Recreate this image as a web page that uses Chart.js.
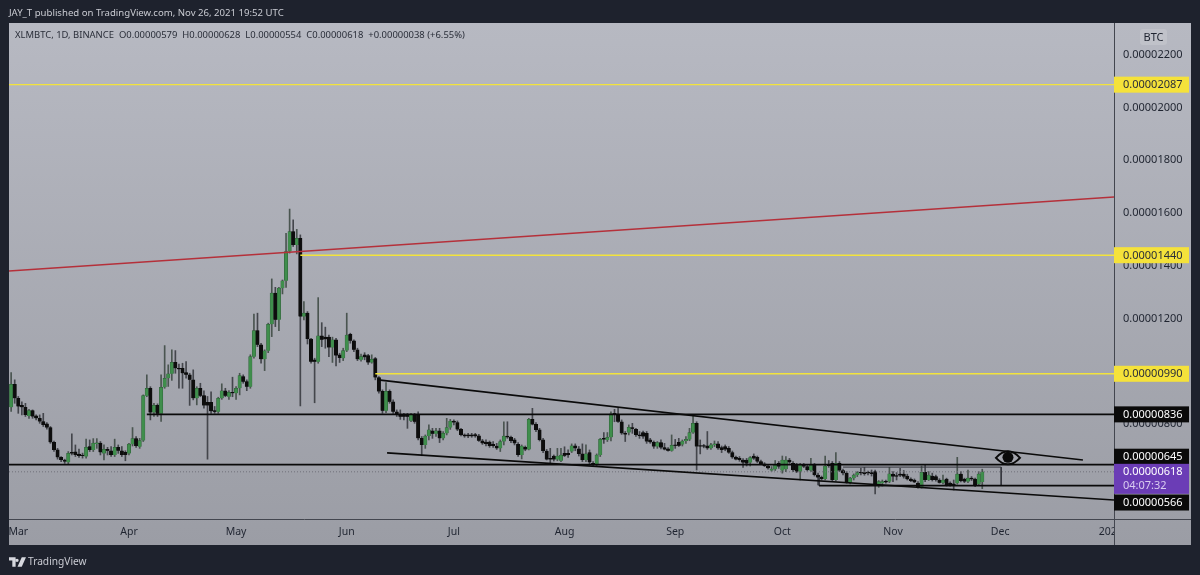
<!DOCTYPE html>
<html>
<head>
<meta charset="utf-8">
<title>XLMBTC</title>
<style>
  html, body { margin: 0; padding: 0; background: #1e222d; width: 1200px; height: 575px; overflow: hidden; }
  body { font-family: "Noto Sans", sans-serif; position: relative; }
  canvas { position: absolute; left: 0; top: 0; }
  .note { position: absolute; white-space: pre; line-height: 14px; }
  #published { left: 9px; top: 6px; color: #c9cbd2; font-size: 9.6px; }
  #ohlc { left: 15px; top: 28px; color: #2a2e39; font-size: 9.45px; }
  #brand { left: 28px; top: 554px; color: #c9cbd2; font-size: 10.2px; }
  #logo { position: absolute; left: 9px; top: 557px; }
</style>
</head>
<body>
<canvas id="chart" width="1200" height="575"></canvas>
<div class="note" id="published">JAY_T published on TradingView.com, Nov 26, 2021 19:52 UTC</div>
<div class="note" id="ohlc">XLMBTC, 1D, BINANCE  O0.00000579  H0.00000628  L0.00000554  C0.00000618  +0.00000038 (+6.55%)</div>
<svg id="logo" width="17" height="10" viewBox="0 0 36 20"><path fill="#d6d8de" d="M0 0h14v20H7V7H0zM17 3a3.5 3.5 0 1 0 0 7 3.5 3.5 0 0 0 0-7zM27 0h9l-9 20h-9z"/></svg>
<div class="note" id="brand">TradingView</div>
<script src="https://cdn.jsdelivr.net/npm/chart.js@4"></script>
<script>
// prices are in satoshi (1e-8 BTC), first candle is 2 days before Mar 1
const firstDay = -2;

const opens = [
  863,950,897,870,863,830,850,830,821,809,
  800,786,730,701,673,663,654,692,694,685,
  682,676,714,701,724,727,688,703,698,682,
  711,698,692,688,723,744,713,737,907,935,
  843,870,838,939,973,990,1033,1011,1011,995,
  986,967,897,935,907,882,882,850,846,897,
  925,903,920,916,935,979,960,941,1055,1154,
  1100,1045,1077,1178,1296,1195,1315,1343,1454,1530,
  1479,1504,1207,1220,1122,1043,1036,1134,1129,1129,
  1090,1119,1062,1049,1078,1140,1115,1081,1043,1062,
  1059,1033,1048,976,923,850,923,884,846,836,
  834,834,812,834,834,745,720,754,774,762,
  774,745,764,786,811,805,779,758,758,758,
  759,755,736,731,731,722,716,707,733,754,
  749,739,722,682,711,703,817,798,777,739,
  697,669,678,665,660,688,688,695,717,705,
  686,663,691,650,645,682,745,739,749,840,
  834,808,764,767,786,779,758,767,764,739,
  730,714,729,710,705,698,720,730,722,735,
  741,767,802,717,717,717,707,720,724,710,
  714,707,691,673,669,663,663,653,678,673,
  657,648,640,623,628,650,623,628,663,650,
  644,619,644,638,623,644,606,597,591,644,
  650,587,650,623,613,577,594,606,615,615,
  615,615,619,564,575,581,581,609,604,609,
  609,602,590,587,575,559,616,587,602,600,
  587,577,590,575,572,575,609,590,581,594,
  590,571,579,
];
const highs = [
  995,967,904,884,878,855,853,834,834,840,
  805,790,735,707,676,666,695,762,720,704,
  689,742,739,744,744,733,720,711,714,742,
  720,714,698,726,786,752,745,910,986,941,
  878,876,986,1097,1024,1081,1078,1027,1030,1036,
  992,1005,941,954,925,904,922,866,901,952,
  935,926,977,941,992,986,967,1062,1217,1220,
  1106,1081,1182,1350,1318,1318,1346,1523,1615,1574,
  1538,1517,1264,1226,1125,1049,1279,1184,1167,1137,
  1129,1125,1068,1087,1220,1144,1119,1087,1065,1070,
  1064,1062,1052,979,929,957,929,891,853,853,
  840,840,840,840,846,752,758,796,783,783,
  783,771,821,817,815,811,783,762,764,764,
  764,760,741,739,735,733,726,739,808,808,
  754,745,729,720,716,821,859,805,783,745,
  703,707,682,707,707,713,701,724,724,714,
  724,720,701,657,686,745,767,767,846,855,
  859,815,771,796,802,783,771,773,771,745,
  735,733,739,726,710,758,741,745,739,752,
  783,830,808,739,722,771,726,735,733,716,
  720,714,697,678,676,668,669,676,686,678,
  663,653,645,638,661,657,678,676,669,657,
  650,650,650,644,669,650,613,602,678,661,
  657,691,657,628,619,597,610,619,631,635,
  621,625,625,585,587,587,635,619,615,631,
  623,609,595,591,581,640,644,619,613,606,
  592,606,594,580,587,673,619,594,625,600,
  594,619,628,
];
const lows = [
  847,878,840,834,828,821,821,815,802,790,
  780,726,695,666,657,650,648,682,676,673,
  670,670,695,695,707,682,663,682,676,676,
  688,676,660,682,716,711,707,733,903,815,
  828,828,809,935,942,965,992,935,935,973,
  870,891,872,903,860,666,840,840,840,893,
  903,893,903,893,910,954,926,935,1049,1093,
  1030,1002,1070,1131,1169,1154,1293,1318,1448,1473,
  1445,868,1194,1103,1030,880,1030,1093,1087,1055,
  1033,1020,1033,1040,1074,1106,1074,1040,1038,1043,
  1026,1030,967,916,840,842,878,840,828,817,
  815,783,808,802,739,679,707,739,745,752,
  729,739,758,779,796,774,754,749,748,749,
  749,733,722,716,711,711,703,695,720,745,
  729,720,676,667,698,701,796,770,735,691,
  663,648,659,660,657,676,673,691,698,678,
  657,657,644,640,640,676,726,733,735,808,
  805,760,733,758,764,752,745,745,726,726,
  707,707,705,701,696,696,707,714,716,726,
  736,764,625,686,709,703,703,714,703,691,
  698,688,669,663,658,635,640,640,665,653,
  645,638,628,620,623,631,613,619,650,619,
  615,587,634,621,619,602,568,587,587,635,
  583,583,619,606,575,572,587,600,606,605,
  606,602,534,559,564,575,577,581,587,600,
  594,587,581,577,556,556,581,585,583,583,
  575,572,564,564,549,571,580,577,577,585,
  562,566,554,
];
const closes = [
  950,897,866,863,834,850,828,821,809,796,
  786,730,701,673,663,657,688,688,682,678,
  678,711,701,727,727,692,703,698,682,711,
  698,682,682,723,744,716,737,907,935,843,
  870,838,939,973,990,1033,1011,1007,992,986,
  967,897,935,907,870,870,848,846,897,925,
  907,920,916,935,983,960,941,1055,1154,1100,
  1045,1077,1178,1296,1195,1315,1343,1454,1530,1479,
  1504,1207,1220,1122,1036,1036,1134,1119,1121,1090,
  1119,1059,1050,1078,1137,1115,1081,1045,1055,1053,
  1033,1045,976,923,850,923,884,846,837,827,
  827,827,834,808,745,720,754,777,762,774,
  745,764,786,811,805,779,758,753,753,753,
  753,736,726,724,716,716,707,733,754,749,
  735,726,682,716,703,817,798,777,739,697,
  665,665,665,678,682,679,682,717,707,686,
  663,686,654,645,682,741,741,749,838,834,
  808,764,760,787,781,758,754,752,733,730,
  714,729,710,703,698,719,717,717,735,741,
  767,802,714,714,714,707,720,724,707,701,
  703,691,673,665,663,653,650,672,669,657,
  648,640,632,628,644,638,663,663,654,625,
  619,644,638,625,644,606,596,591,640,640,
  587,650,623,613,577,594,606,615,613,610,
  613,610,568,581,581,578,610,600,600,604,
  600,590,583,578,559,616,587,606,587,587,
  577,587,568,568,568,609,583,581,594,590,
  568,609,618,
];

const monthDays = [0, 31, 61, 92, 122, 153, 184, 214, 245, 275, 306];
const monthLabels = ["Mar", "Apr", "May", "Jun", "Jul", "Aug", "Sep", "Oct", "Nov", "Dec", "2022"];
const priceTicks = [600, 800, 1000, 1200, 1400, 1600, 1800, 2000, 2200];

const formatPrice = (v) => (v / 1e8).toFixed(8);

// drawn levels and trend lines, as [day, price] pairs
const toPoints = (pairs) => pairs.map(([x, y]) => ({ x, y }));
const redLine = [[-2.6, 1380], [306.9, 1661]];
const upperTrend = [[100.8, 967], [298.2, 663]];
const lowerTrend = [[103.3, 690], [306.9, 511]];
const level2087 = [[-2.6, 2087], [306.9, 2087]];
const level1440 = [[79, 1440], [306.9, 1440]];
const level990 = [[100, 990], [306.9, 990]];
const level836 = [[36, 836], [306.9, 836]];
const level645 = [[-2.6, 645], [306.9, 645]];
const level566 = [[224.3, 566], [306.9, 566]];
const lastPrice = [[-2.6, 618], [306.9, 618]];
const boxRight = [[231, 636], [275.3, 636], [275.3, 566]];
const boxLeft = [[224.3, 596], [224.3, 566]];
const eyeSpot = [277.2, 671];

const isUp = (i) => closes[i] >= opens[i];

const lineSet = (pairs, color, width, dash) => ({
  type: "line",
  data: toPoints(pairs),
  borderColor: color,
  borderWidth: width,
  borderDash: dash || [],
  pointRadius: 0,
  tension: 0,
  order: 0,
});

const panelFill = (ctx) => {
  const g = ctx.createLinearGradient(0, 23, 0, 545);
  g.addColorStop(0, "#b7b9c2");
  g.addColorStop(1, "#9b9da5");
  return g;
};

const tagRows = [
  { price: 2087, bg: "#f5e23a", fg: "#2a2e39", shift: 0 },
  { price: 1440, bg: "#f5e23a", fg: "#2a2e39", shift: 0 },
  { price: 990, bg: "#f5e23a", fg: "#2a2e39", shift: 0 },
  { price: 836, bg: "#0a0a0a", fg: "#ffffff", shift: 0 },
  { price: 645, bg: "#0a0a0a", fg: "#ffffff", shift: -8 },
  { price: 566, bg: "#0a0a0a", fg: "#ffffff", shift: 17 },
];

const paintPlugin = {
  id: "paint",
  beforeDraw(chart) {
    const { ctx } = chart;
    ctx.save();
    ctx.fillStyle = panelFill(ctx);
    ctx.fillRect(9, 23, 1182, 522);
    ctx.restore();
  },
  afterDraw(chart) {
    const { ctx, scales } = chart;
    const yOf = (p) => scales.y.getPixelForValue(p);
    ctx.save();

    // the last month label is cut by the price axis
    ctx.fillStyle = panelFill(ctx);
    ctx.fillRect(1114, 520, 30, 25);

    ctx.strokeStyle = "#43464f";
    ctx.lineWidth = 1;
    ctx.beginPath();
    ctx.moveTo(1114.5, 23);
    ctx.lineTo(1114.5, 545);
    ctx.moveTo(9, 519.5);
    ctx.lineTo(1191, 519.5);
    ctx.stroke();

    // BTC currency button
    ctx.fillStyle = "rgba(255,255,255,0.14)";
    ctx.beginPath();
    ctx.roundRect(1140, 29, 27, 16, 3);
    ctx.fill();
    ctx.font = '11px "Noto Sans"';
    ctx.textAlign = "center";
    ctx.textBaseline = "middle";
    ctx.fillStyle = "#1f2430";
    ctx.fillText("BTC", 1153.5, 37.5);

    // eye drawing on the upper trend line
    const ex = scales.x.getPixelForValue(eyeSpot[0]);
    const ey = yOf(eyeSpot[1]);
    ctx.strokeStyle = "#0a0a0a";
    ctx.lineWidth = 2;
    ctx.fillStyle = "#a3a5ad";
    ctx.beginPath();
    ctx.moveTo(ex - 12, ey);
    ctx.quadraticCurveTo(ex, ey - 13, ex + 12, ey);
    ctx.quadraticCurveTo(ex, ey + 13, ex - 12, ey);
    ctx.closePath();
    ctx.fill();
    ctx.stroke();
    ctx.fillStyle = "#0a0a0a";
    ctx.beginPath();
    ctx.arc(ex, ey - 0.5, 5.5, 0, Math.PI * 2);
    ctx.fill();

    // price tags
    ctx.textAlign = "left";
    ctx.font = '11px "Noto Sans"';
    tagRows.forEach((t) => {
      const mid = yOf(t.price) + t.shift;
      ctx.fillStyle = t.bg;
      ctx.fillRect(1114, mid - 8, 75, 16);
      ctx.fillStyle = t.fg;
      ctx.fillText(formatPrice(t.price), 1123, mid + 0.5);
    });

    const lastMid = yOf(618);
    ctx.fillStyle = "#6b3db6";
    ctx.fillRect(1114, lastMid - 8, 75, 30);
    ctx.fillStyle = "#ffffff";
    ctx.fillText(formatPrice(618), 1123, lastMid + 0.5);
    ctx.fillStyle = "#d9cdf0";
    ctx.fillText("04:07:32", 1123, lastMid + 14);

    ctx.restore();
  },
};

const wickData = highs.map((h, i) => ({ x: firstDay + i, y: [lows[i], h] }));
const bodyData = opens.map((o, i) => ({ x: firstDay + i, y: [o, closes[i]] }));

new Chart(document.getElementById("chart"), {
  type: "bar",
  data: {
    datasets: [
      lineSet(redLine, "#b5303a", 1.6),
      lineSet(level2087, "#f2e33c", 1.4),
      lineSet(level1440, "#f2e33c", 1.4),
      lineSet(level990, "#f2e33c", 1.4),
      lineSet(level836, "#0a0a0a", 1.8),
      lineSet(level645, "#0a0a0a", 1.8),
      lineSet(level566, "#0a0a0a", 1.8),
      lineSet(upperTrend, "#0a0a0a", 1.6),
      lineSet(lowerTrend, "#0a0a0a", 1.6),
      lineSet(lastPrice, "#6f717a", 1, [1, 2]),
      lineSet(boxRight, "#33353c", 1),
      lineSet(boxLeft, "#33353c", 1),
      {
        data: bodyData,
        barThickness: 3.4,
        grouped: false,
        order: 1,
        minBarLength: 1,
        borderWidth: 0.5,
        borderColor: (c) => (isUp(c.dataIndex) ? "#2c5a36" : "#0d0d0d"),
        backgroundColor: (c) => (isUp(c.dataIndex) ? "#3f8e4c" : "#0d0d0d"),
      },
      {
        data: wickData,
        barThickness: 1,
        grouped: false,
        order: 2,
        backgroundColor: (c) => (isUp(c.dataIndex) ? "#4a5550" : "#44464c"),
      },
    ],
  },
  options: {
    responsive: false,
    animation: false,
    devicePixelRatio: 1,
    layout: { padding: { left: 9, top: 23, right: 9, bottom: 30 } },
    plugins: {
      legend: { display: false },
      title: { display: false },
      tooltip: { enabled: false },
    },
    scales: {
      x: {
        type: "linear",
        offset: false,
        min: -2.6,
        max: 306.9,
        grid: { display: false, drawTicks: false },
        border: { display: false },
        afterBuildTicks: (axis) => {
          axis.ticks = monthDays.map((value) => ({ value }));
        },
        afterFit: (axis) => {
          axis.height = 26;
        },
        ticks: {
          autoSkip: false,
          maxRotation: 0,
          color: "#1f2430",
          padding: 7,
          font: { family: "Noto Sans", size: 10.5 },
          callback: (v) => monthLabels[monthDays.indexOf(v)],
        },
      },
      y: {
        type: "linear",
        position: "right",
        min: 439,
        max: 2321,
        grid: { display: false, drawTicks: false },
        border: { display: false },
        afterBuildTicks: (axis) => {
          axis.ticks = priceTicks.map((value) => ({ value }));
        },
        afterFit: (axis) => {
          axis.width = 77;
        },
        ticks: {
          autoSkip: false,
          color: "#1f2430",
          padding: 9,
          font: { family: "Noto Sans", size: 11 },
          callback: (v) => formatPrice(v),
        },
      },
    },
  },
  plugins: [paintPlugin],
});
</script>
</body>
</html>
